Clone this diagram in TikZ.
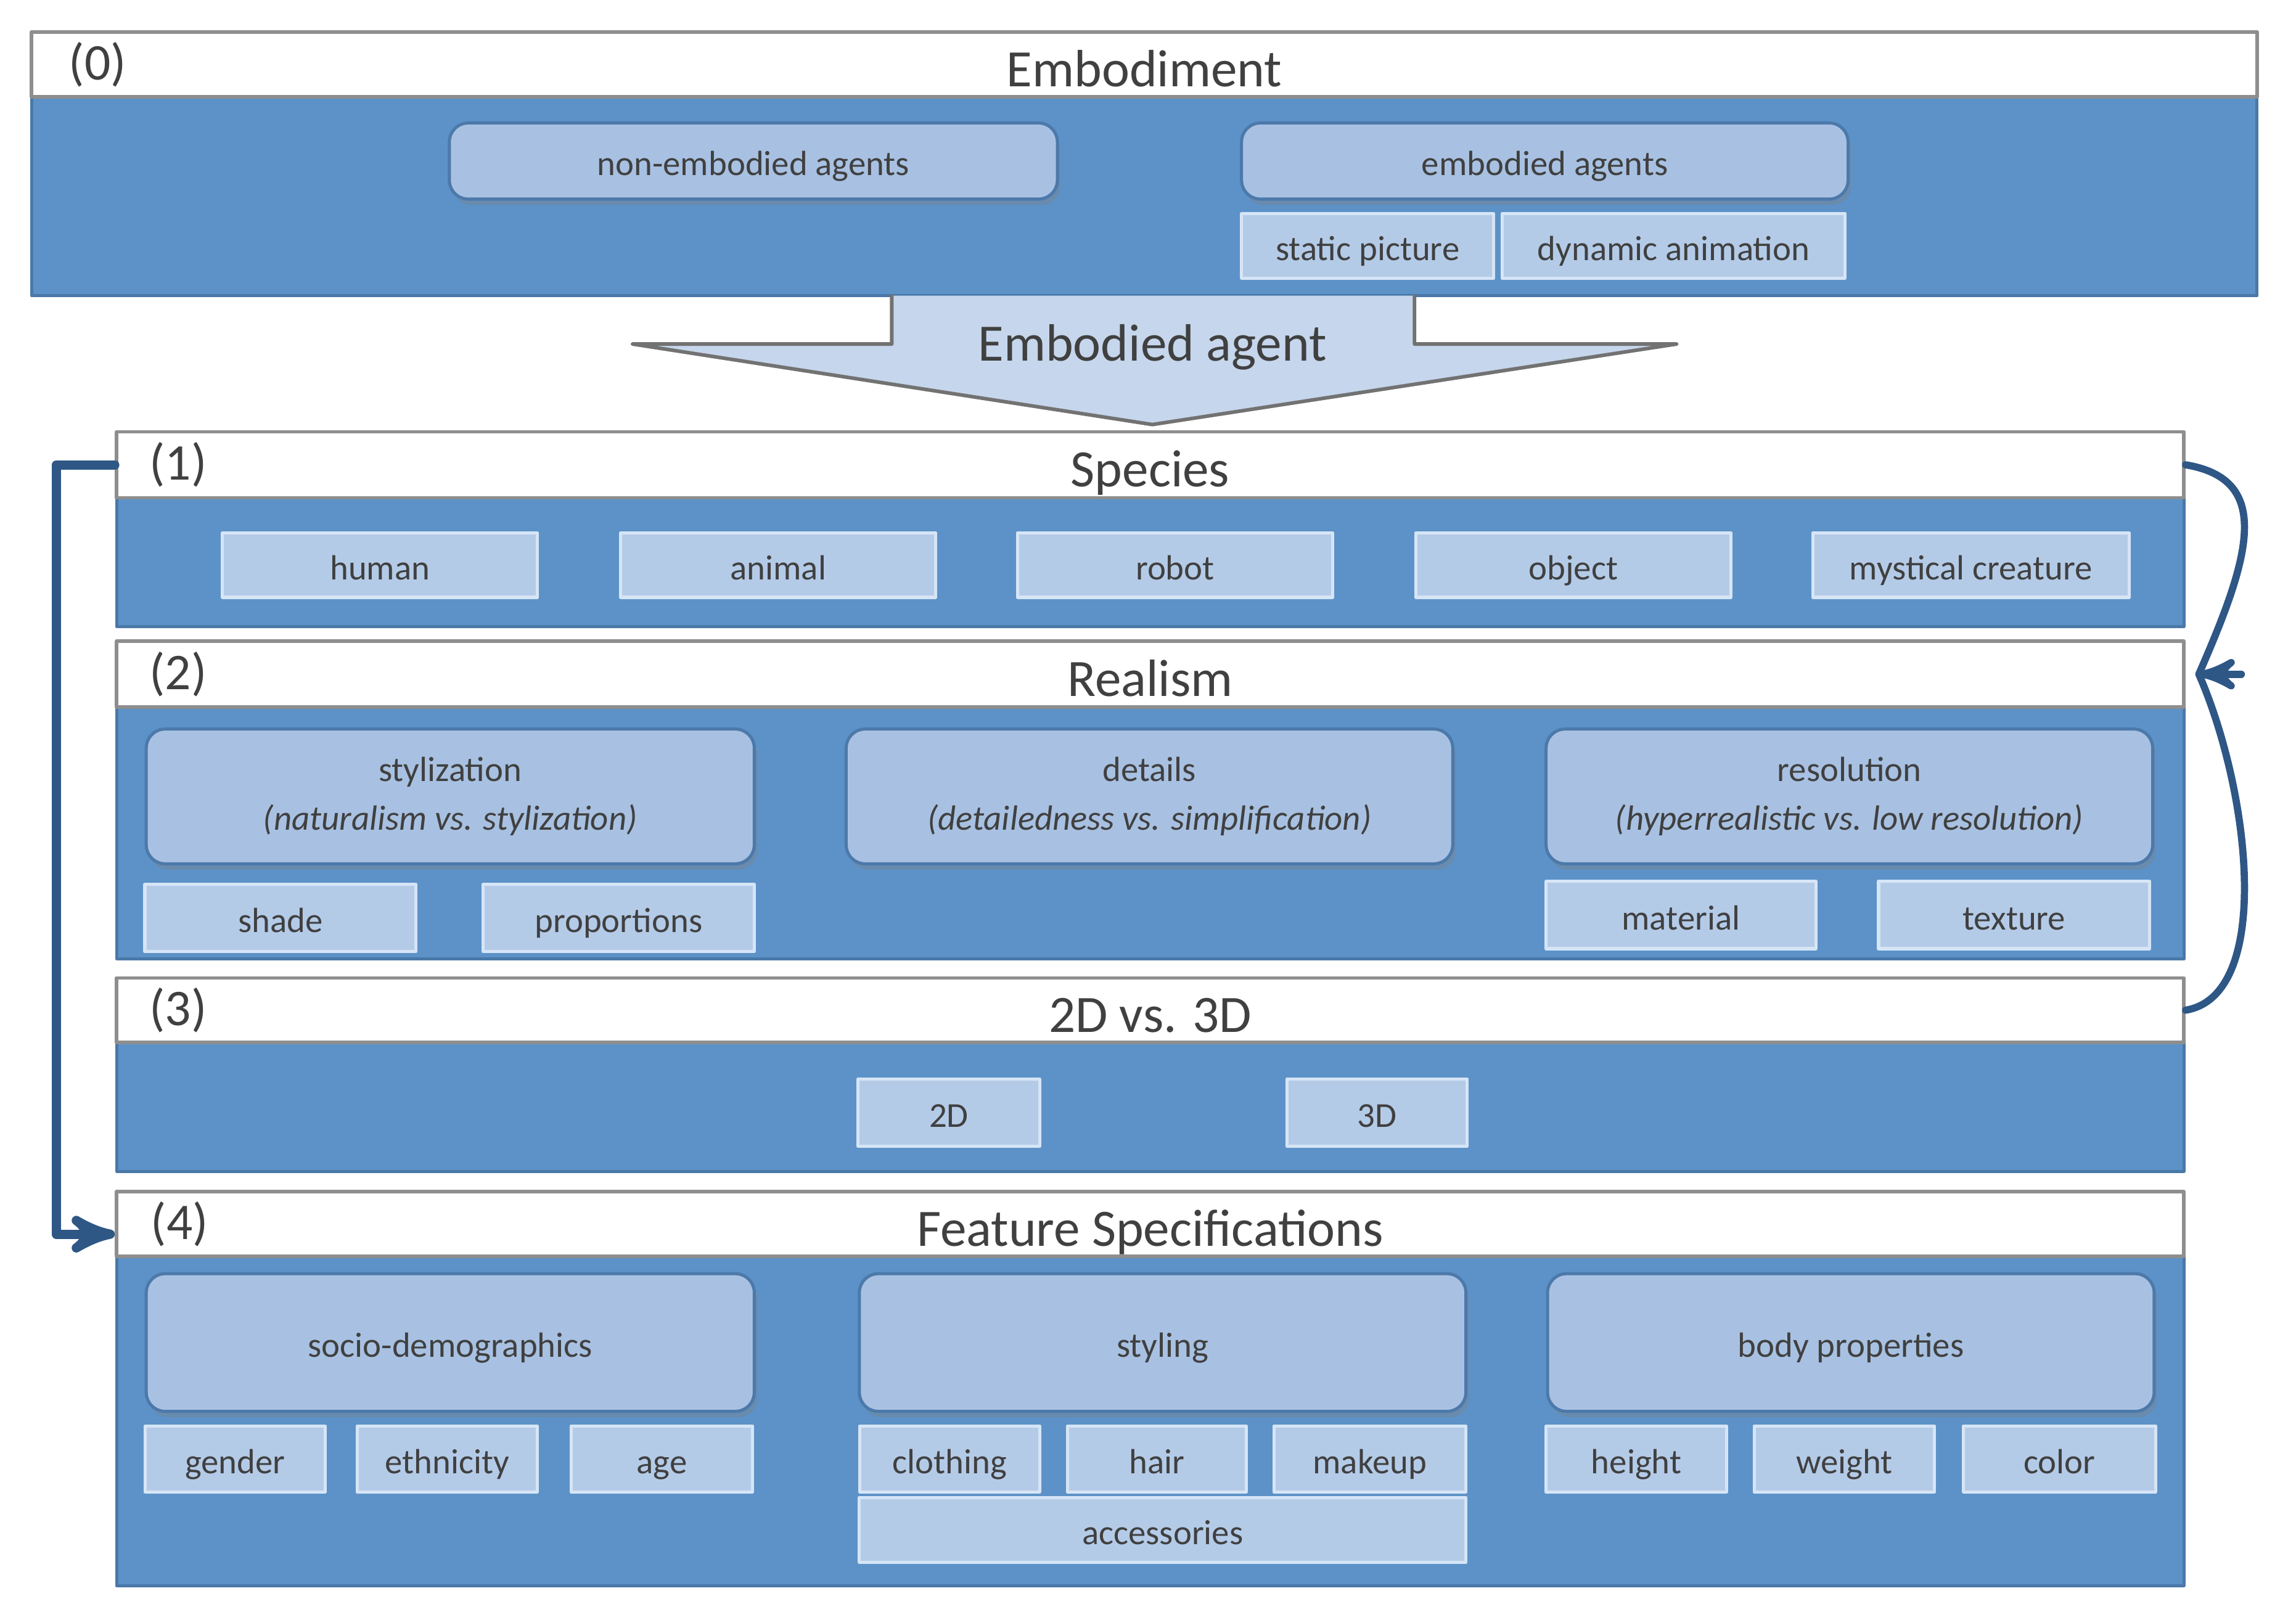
\documentclass[tikz,border=0pt]{standalone}
\usepackage{fontspec}
\setmainfont{Carlito}
\usepackage{tikz}
\usetikzlibrary{arrows}
\usetikzlibrary{positioning}
\usetikzlibrary{shadows}

\definecolor{panelblue}{HTML}{5C92C8}
\definecolor{paneledge}{HTML}{4A78A8}
\definecolor{groupfill}{HTML}{A8C1E2}
\definecolor{groupedge}{HTML}{4C79AA}
\definecolor{itemfill}{HTML}{B4CBE8}
\definecolor{itemedge}{HTML}{D6E5F6}
\definecolor{arrowfill}{HTML}{C6D6EC}
\definecolor{connblue}{HTML}{2E5786}
\definecolor{txtgray}{HTML}{404040}
\definecolor{titlegray}{HTML}{8E8E8E}

\begin{document}
\begin{tikzpicture}[line cap=round,line join=round,>=stealth',x=0.01cm,y=-0.01cm,
    titlebar/.style={draw=titlegray, fill=white, line width=0.7pt, text=txtgray, inner sep=0pt, text height=3mm, text depth=0mm, font=\fontsize{10.2}{12}\selectfont},
    num/.style={text=txtgray, inner sep=0pt, font=\fontsize{10}{12}\selectfont},
    panel/.style={draw=paneledge, fill=panelblue, line width=0.6pt, inner sep=0pt},
    group/.style={draw=groupedge, fill=groupfill, line width=0.6pt, rounded corners=1.3mm, text=txtgray, align=center, inner sep=0pt, font=\fontsize{6.8}{9.5}\selectfont, drop shadow={shadow xshift=0.2mm, shadow yshift=-0.4mm, opacity=0.35}},
    item/.style={draw=itemedge, fill=itemfill, line width=0.6pt, text=txtgray, inner sep=0pt, text height=2.2mm, text depth=0.2mm, font=\fontsize{6.8}{9}\selectfont},
    conn/.style={draw=connblue, line width=1.8pt},
    brace/.style={draw=connblue, line width=1.4pt}]

    \useasboundingbox (0,0) rectangle (1568,1101);

    % (0) Embodiment
    \node[panel, minimum width=151.9mm, minimum height=13.6mm] (p0) at (781.5,134) {};
    \node[titlebar, minimum width=151.9mm, minimum height=4.4mm] (t0) at (781.5,44) {Embodiment};
    \node[num, right=0.26cm of t0.west] (n0) {(0)};
    \node[group, minimum width=41.5mm, minimum height=5.2mm, text height=2.2mm, text depth=0.2mm] (nonemb) at (514.5,110) {non-embodied agents};
    \node[group, minimum width=41.4mm, minimum height=5.2mm, text height=2.2mm, text depth=0.2mm] (emb) at (1055,110) {embodied agents};
    \node[item, minimum width=17.2mm, minimum height=4.4mm] (static) at (934,168) {static picture};
    \node[item, minimum width=23.4mm, minimum height=4.4mm] (dynamic) at (1143,168) {dynamic animation};

    % big arrow
    \draw[draw=titlegray!80!black, fill=arrowfill, line width=0.7pt]
        (609,202) -- (609,235) -- (432,235) -- (787,290) -- (1145,235) -- (966,235) -- (966,202);
    \node[text=txtgray, font=\fontsize{10.2}{12}\selectfont] (agent) at (787,237) {Embodied agent};

    % (1) Species
    \node[panel, minimum width=141.1mm, minimum height=8.8mm] (p1) at (785.5,384) {};
    \node[titlebar, minimum width=141.1mm, minimum height=4.5mm] (t1) at (785.5,317.5) {Species};
    \node[num, right=0.23cm of t1.west] (n1) {(1)};
    \node[item, minimum width=21.5mm, minimum height=4.4mm] (human) at (259.5,386) {human};
    \node[item, minimum width=21.5mm, minimum height=4.4mm] (animal) at (531.5,386) {animal};
    \node[item, minimum width=21.5mm, minimum height=4.4mm] (robot) at (802.5,386) {robot};
    \node[item, minimum width=21.5mm, minimum height=4.4mm] (object) at (1074.5,386) {object};
    \node[item, minimum width=21.6mm, minimum height=4.4mm] (mystical) at (1346,386) {mystical creature};

    % (2) Realism
    \node[panel, minimum width=141.1mm, minimum height=17.2mm] (p2) at (785.5,569) {};
    \node[titlebar, minimum width=141.1mm, minimum height=4.5mm] (t2) at (785.5,460.5) {Realism};
    \node[num, right=0.23cm of t2.west] (n2) {(2)};
    \node[group, minimum width=41.5mm, minimum height=9.2mm] (styl) at (307.5,544) {stylization\\\textit{(naturalism vs. stylization)}};
    \node[group, minimum width=41.4mm, minimum height=9.2mm] (details) at (785,544) {details\\\textit{(detailedness vs. simplification)}};
    \node[group, minimum width=41.4mm, minimum height=9.2mm] (resol) at (1263,544) {resolution\\\textit{(hyperrealistic vs. low resolution)}};
    \node[item, minimum width=18.5mm, minimum height=4.6mm] (shade) at (191.5,627) {shade};
    \node[item, minimum width=18.5mm, minimum height=4.6mm] (propor) at (422.5,627) {proportions};
    \node[item, minimum width=18.4mm, minimum height=4.6mm] (material) at (1148,625) {material};
    \node[item, minimum width=18.5mm, minimum height=4.6mm] (texture) at (1375.5,625) {texture};

    % (3) 2D vs. 3D
    \node[panel, minimum width=141.1mm, minimum height=8.8mm] (p3) at (785.5,756) {};
    \node[titlebar, minimum width=141.1mm, minimum height=4.4mm] (t3) at (785.5,690) {2D vs. 3D};
    \node[num, right=0.23cm of t3.west] (n3) {(3)};
    \node[item, minimum width=12.4mm, minimum height=4.6mm] (twod) at (648,760) {2D};
    \node[item, minimum width=12.3mm, minimum height=4.6mm] (threed) at (940.5,760) {3D};

    % (4) Feature Specifications
    \node[panel, minimum width=141.1mm, minimum height=22.5mm] (p4) at (785.5,970.5) {};
    \node[titlebar, minimum width=141.1mm, minimum height=4.4mm] (t4) at (785.5,836) {Feature Specifications};
    \node[num, right=0.24cm of t4.west] (n4) {(4)};
    \node[group, minimum width=41.5mm, minimum height=9.4mm, text height=2.2mm, text depth=0.2mm] (socio) at (307.5,917) {socio-demographics};
    \node[group, minimum width=41.4mm, minimum height=9.4mm, text height=2.2mm, text depth=0.2mm] (styling) at (794,917) {styling};
    \node[group, minimum width=41.4mm, minimum height=9.4mm, text height=2.2mm, text depth=0.2mm] (body) at (1264,917) {body properties};
    \node[item, minimum width=12.3mm, minimum height=4.5mm] (gender) at (160.5,996.5) {gender};
    \node[item, minimum width=12.3mm, minimum height=4.5mm] (ethnic) at (305.5,996.5) {ethnicity};
    \node[item, minimum width=12.4mm, minimum height=4.5mm] (age) at (452,996.5) {age};
    \node[item, minimum width=12.3mm, minimum height=4.5mm] (clothing) at (648.5,996.5) {clothing};
    \node[item, minimum width=12.2mm, minimum height=4.5mm] (hair) at (790,996.5) {hair};
    \node[item, minimum width=13.1mm, minimum height=4.5mm] (makeup) at (935.5,996.5) {makeup};
    \node[item, minimum width=41.4mm, minimum height=4.4mm] (access) at (794,1045) {accessories};
    \node[item, minimum width=12.3mm, minimum height=4.5mm] (height) at (1117.5,996.5) {height};
    \node[item, minimum width=12.3mm, minimum height=4.5mm] (weight) at (1259.5,996.5) {weight};
    \node[item, minimum width=13.1mm, minimum height=4.5mm] (color) at (1406.5,996.5) {color};

    % connectors
    \draw[conn,->] (t1.west) -- ++(-40,0) |- ([yshift=-0.07cm]t4.west);
    \coordinate (cusp) at ([xshift=0.09cm]t2.east);
    \draw[brace] (t1.east) .. controls +(60,10) and +(35,-80) .. (cusp)
        .. controls +(35,80) and +(60,-10) .. (t3.east);
    \draw[brace,->] ([xshift=0.38cm]t2.east) -- (cusp);
\end{tikzpicture}
\end{document}
